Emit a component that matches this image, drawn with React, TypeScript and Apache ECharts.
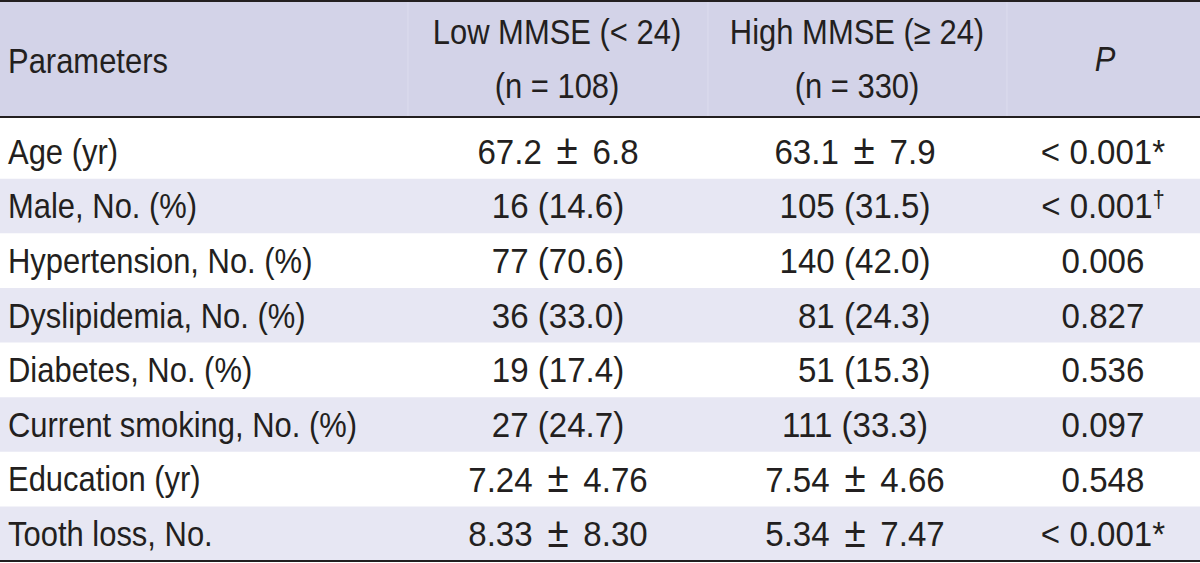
import React, { useEffect, useRef } from "react";
import * as echarts from "echarts";

const headerLabels = ["Parameters", "Low MMSE (< 24)", "High MMSE (≥ 24)", "P"];
const headerCounts = ["", "(n = 108)", "(n = 330)", ""];
const parameters = [
  "Age (yr)",
  "Male, No. (%)",
  "Hypertension, No. (%)",
  "Dyslipidemia, No. (%)",
  "Diabetes, No. (%)",
  "Current smoking, No. (%)",
  "Education (yr)",
  "Tooth loss, No.",
];
const lowMMSE = ["67.2 ± 6.8", "16 (14.6)", "77 (70.6)", "36 (33.0)", "19 (17.4)", "27 (24.7)", "7.24 ± 4.76", "8.33 ± 8.30"];
const highMMSE = ["63.1 ± 7.9", "105 (31.5)", "140 (42.0)", "81 (24.3)", "51 (15.3)", "111 (33.3)", "7.54 ± 4.66", "5.34 ± 7.47"];
const pValues = ["< 0.001", "< 0.001", "0.006", "0.827", "0.536", "0.097", "0.548", "< 0.001"];
const pMarks = ["*", "†", "", "", "", "", "", "*"];

const FONT = "'Liberation Sans', Arial, Helvetica, sans-serif";
const FS = 36;
const SX = 0.86; // condensed look for words
const SX_NUM = 0.92; // numbers in the original are a little wider
const INK = "#231f20";
const HEAD_BG = "#d3d3e8";
const STRIPE = "#e7e7f3";
const W = 1200;
const H = 563;
const COL_LEFT = 8;
const COL_CENTERS = [558, 855, 1103];
const SEPARATORS = [408, 708, 1007];

const RICH = {
  n: { fontSize: FS, fontFamily: FONT, fill: INK },
  pm: { fontSize: 42, fontFamily: FONT, fill: INK, padding: [0, 6, 3, 6] },
  s: { fontSize: 24, fontFamily: FONT, fill: INK, verticalAlign: "top" },
};

// pad counts with figure spaces so the "(…)" parts line up like the original
function padCounts(col: string[]): string[] {
  const maxDigits = Math.max(
    ...col.filter((v) => !v.includes("±")).map((v) => v.split(" ")[0].length)
  );
  return col.map((v) => {
    if (v.includes("±")) return v;
    const n = v.split(" ")[0];
    return "\u2007".repeat(maxDigits - n.length) + v;
  });
}

// mean ± SD as rich text with a larger ± like the original typesetting
function toRich(v: string): string {
  if (!v.includes("±")) return `{n|${v}}`;
  const [a, b] = v.split("±").map((s) => s.trim());
  return `{n|${a} }{pm|±}{n| ${b}}`;
}

export default function App() {
  const ref = useRef<HTMLDivElement>(null);
  useEffect(() => {
    if (!ref.current) return;
    const chart = echarts.init(ref.current, undefined, { renderer: "svg" });
    const lowCol = padCounts(lowMMSE);
    const highCol = padCounts(highMMSE);

    const txt = (x: number, y: number, text: string, align: string, extra: any = {}) => ({
      type: "text",
      x,
      y,
      scaleX: extra.num ? SX_NUM : SX,
      style: {
        text,
        x: 0,
        y: 0,
        fill: INK,
        fontSize: FS,
        fontFamily: FONT,
        fontStyle: extra.italic ? "italic" : "normal",
        align,
        verticalAlign: "middle",
        ...(extra.rich ? { rich: RICH } : {}),
      },
    });

    const headerMid = 59;
    const lineGap = 54;
    const graphics: any[] = [
      { type: "rect", shape: { x: 0, y: 2, width: W, height: 114 }, style: { fill: HEAD_BG }, z: 0 },
      ...SEPARATORS.map((x) => ({
        type: "line",
        shape: { x1: x, y1: 2, x2: x, y2: 116 },
        style: { stroke: "#dcdcee", lineWidth: 1 },
        z: 1,
      })),
      { type: "line", shape: { x1: 0, y1: 1, x2: W, y2: 1 }, style: { stroke: INK, lineWidth: 2 }, z: 5 },
      { type: "line", shape: { x1: 0, y1: 117, x2: W, y2: 117 }, style: { stroke: INK, lineWidth: 2 }, z: 5 },
      { type: "line", shape: { x1: 0, y1: 561, x2: W, y2: 561 }, style: { stroke: INK, lineWidth: 2 }, z: 5 },
      { ...txt(COL_LEFT, headerMid + 2, headerLabels[0], "left"), z: 5 },
      { ...txt(557, headerMid - lineGap / 2, headerLabels[1], "center"), z: 5 },
      { ...txt(557, headerMid + lineGap / 2, headerCounts[1], "center"), z: 5 },
      { ...txt(857, headerMid - lineGap / 2, headerLabels[2], "center"), z: 5 },
      { ...txt(857, headerMid + lineGap / 2, headerCounts[2], "center"), z: 5 },
      { ...txt(1105, headerMid, headerLabels[3], "center", { italic: true }), z: 5 },
    ];

    const option: any = {
      animation: false,
      grid: { left: 0, right: 0, top: 124, bottom: 2 },
      xAxis: { type: "value", min: 0, max: W, show: false },
      yAxis: { type: "category", data: parameters, inverse: true, show: false },
      graphic: graphics,
      series: [
        {
          type: "custom",
          encode: { x: 0, y: 1 },
          data: parameters.map((_, i) => [0, i]),
          renderItem: (params: any, api: any) => {
            const i = api.value(1);
            const cy = api.coord([0, i])[1];
            const bh = api.size([0, 1])[1];
            const xs = (v: number) => api.coord([v, i])[0];
            const children: any[] = [];
            if (i % 2 === 1) {
              children.push({
                type: "rect",
                shape: { x: xs(0), y: cy - bh / 2, width: xs(W) - xs(0), height: bh },
                style: { fill: STRIPE },
              });
            }
            children.push(txt(xs(COL_LEFT), cy, parameters[i], "left"));
            children.push(txt(xs(COL_CENTERS[0]), cy, toRich(lowCol[i]), "center", { rich: true, num: true }));
            children.push(txt(xs(COL_CENTERS[1]), cy, toRich(highCol[i]), "center", { rich: true, num: true }));
            const mark = pMarks[i];
            if (mark === "†") {
              children.push(
                txt(xs(COL_CENTERS[2]), cy, `{n|${pValues[i]}}{s|${mark}}`, "center", { rich: true, num: true })
              );
            } else {
              children.push(txt(xs(COL_CENTERS[2]), cy, pValues[i] + mark, "center", { num: true }));
            }
            return { type: "group", children };
          },
        },
      ],
    };
    chart.setOption(option);
    return () => chart.dispose();
  }, []);
  return (
    <div
      ref={ref}
      style={{ position: "fixed", left: 0, top: 0, width: W, height: H, background: "#fff" }}
    />
  );
}
